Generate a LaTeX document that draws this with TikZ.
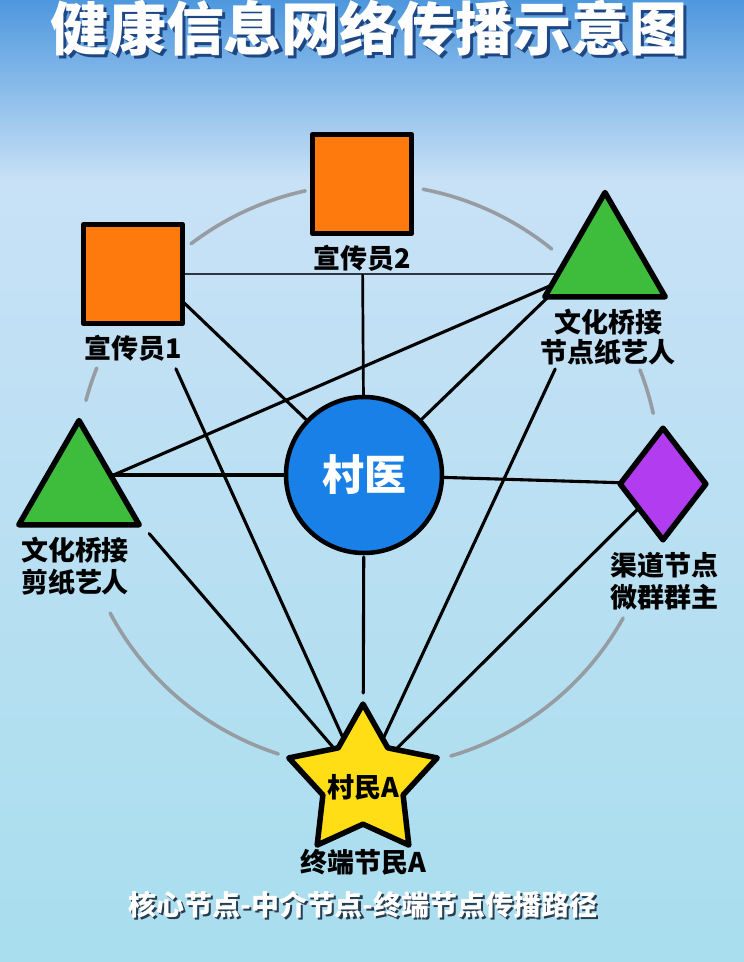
\documentclass[tikz,border=0pt]{standalone}
\usepackage{fontspec}
\newfontfamily\cjk{Noto Sans CJK SC}
\usetikzlibrary{shapes.geometric,calc}
\definecolor{bgtop}{RGB}{78,152,222}
\definecolor{bgmid}{RGB}{200,225,246}
\definecolor{bgcen}{RGB}{240,244,248}
\definecolor{bgbot}{RGB}{168,222,238}
\definecolor{sqorange}{RGB}{255,122,12}
\definecolor{trigreen}{RGB}{62,188,60}
\definecolor{circblue}{RGB}{24,128,230}
\definecolor{diapurple}{RGB}{178,60,240}
\definecolor{staryellow}{RGB}{255,222,22}
\definecolor{ringgray}{RGB}{150,156,162}
\definecolor{darkline}{RGB}{45,55,65}
\definecolor{titleshadow}{RGB}{30,70,130}
\definecolor{capshadow}{RGB}{40,60,80}
\pgfdeclarelayer{bg}
\pgfdeclarelayer{edges}
\pgfsetlayers{bg,edges,main}
\begin{document}
\begin{tikzpicture}[x=1pt,y=-1pt,
  edge/.style={line width=3.1pt, draw=black, line cap=round},
  ringarc/.style={line width=3.6pt, draw=ringgray, line cap=round},
  shapebase/.style={draw=black, line width=5.5pt, line join=round, inner sep=0pt},
  sqnode/.style={shapebase, rectangle, fill=sqorange, minimum size=99pt},
  trinode/.style={shapebase, regular polygon, regular polygon sides=3, fill=trigreen, minimum size=139pt},
  circnode/.style={shapebase, circle, line width=4.5pt, fill=circblue, minimum size=156pt},
  dianode/.style={shapebase, diamond, fill=diapurple, minimum width=88pt, minimum height=114pt},
  starnode/.style={shapebase, star, star points=5, star point ratio=1.85, fill=staryellow, minimum size=156pt},
  lab/.style={font={\cjk\bfseries\fontsize{27}{32}\selectfont}, text=black, inner sep=0pt, align=center},
  titletxt/.style={font={\cjk\bfseries\fontsize{58}{60}\selectfont}, inner sep=0pt},
  captxt/.style={font={\cjk\bfseries\fontsize{28}{30}\selectfont}, inner sep=0pt}
]
\useasboundingbox (0,0) rectangle (744,962);
\begin{pgfonlayer}{bg}
  \shade[top color=bgtop, bottom color=bgmid, draw=none] (0,0) rectangle (744,181);
  \shade[top color=bgmid, middle color=bgcen, bottom color=bgbot, draw=none] (0,180) rectangle (744,962);
  \coordinate (ringc) at (368,476);
  \draw[ringarc] (ringc) ++(102.4:292pt) arc[start angle=102.4, end angle=127.3, radius=292pt];
  \draw[ringarc] (ringc) ++(51.0:292pt) arc[start angle=51.0, end angle=79.1, radius=292pt];
  \draw[ringarc] (ringc) ++(12.4:292pt) arc[start angle=12.4, end angle=21.3, radius=292pt];
  \draw[ringarc] (ringc) ++(-73.5:292pt) arc[start angle=-73.5, end angle=-29.1, radius=292pt];
  \draw[ringarc] (ringc) ++(-152.0:292pt) arc[start angle=-152.0, end angle=-107.9, radius=292pt];
  \draw[ringarc] (ringc) ++(158.3:292pt) arc[start angle=158.3, end angle=165.0, radius=292pt];
\end{pgfonlayer}

% nodes
\node[sqnode] (sq2) at (362,184) {};
\node[sqnode] (sq1) at (133,274) {};
\node[trinode] (triR) at (605,262) {};
\node[trinode] (triL) at (79,490) {};
\node[circnode] (circ) at (364,475) {};
\node[dianode] (dia) at (663,484) {};
\node[starnode] (star) at (363,782) {};

% edges
\begin{pgfonlayer}{edges}
  \draw[edge, line width=2.4pt, draw=darkline] (sq1.center) -- (sq1.center -| triR.center);
  \draw[edge, line width=2.7pt, shorten <=91pt] (sq2.center) -- (circ.center);
  \draw[edge] ([yshift=20pt]sq1.center) -- (circ.center);
  \draw[edge, shorten <=104pt] (sq1.center) -- (star.center);
  \draw[edge] (triR.center) -- (triL.center);
  \draw[edge] ([yshift=20pt]triR.center) -- (circ.center);
  \draw[edge, shorten <=118pt] (triR.center) -- (star.center);
  \draw[edge] (triL.center |- circ.center) -- (circ.center);
  \draw[edge, shorten <=8pt] (triL.corner 3) -- (star.center);
  \draw[edge, shorten <=82pt, shorten >=89pt] (circ.center) -- (star.center);
  \draw[edge] (dia.center) -- (circ.center);
  \draw[edge] (dia.center) -- (star.center);
\end{pgfonlayer}

% labels
\node[lab] (lsq2) at (362,258) {宣传员2};
\node[lab] (lsq1) at (133,348) {宣传员1};
\node[lab, font={\cjk\bfseries\fontsize{27}{30}\selectfont}] (ltriR) at (608,337) {文化桥接\\节点纸艺人};
\node[lab, align=left] (ltriL) at (75,566) {文化桥接\\剪纸艺人};
\node[lab, align=left] (ldia) at (664,581) {渠道节点\\微群群主};
\node[lab] (lstar) at (363,787) {村民A};
\node[lab] (lstarb) at (363,862) {终端节民A};
\node[font={\cjk\bfseries\fontsize{42}{44}\selectfont}, text=white, inner sep=0pt] (lcirc) at (circ.center) {村医};

% title and caption
\node[titletxt, text=titleshadow] (titles) at (372,31) {健康信息网络传播示意图};
\node[titletxt, text=white] (title) at (369,28) {健康信息网络传播示意图};
\node[captxt, text=capshadow] (caps) at (365,907) {核心节点-中介节点-终端节点传播路径};
\node[captxt, text=white] (cap) at (363,905) {核心节点-中介节点-终端节点传播路径};
\end{tikzpicture}
\end{document}
